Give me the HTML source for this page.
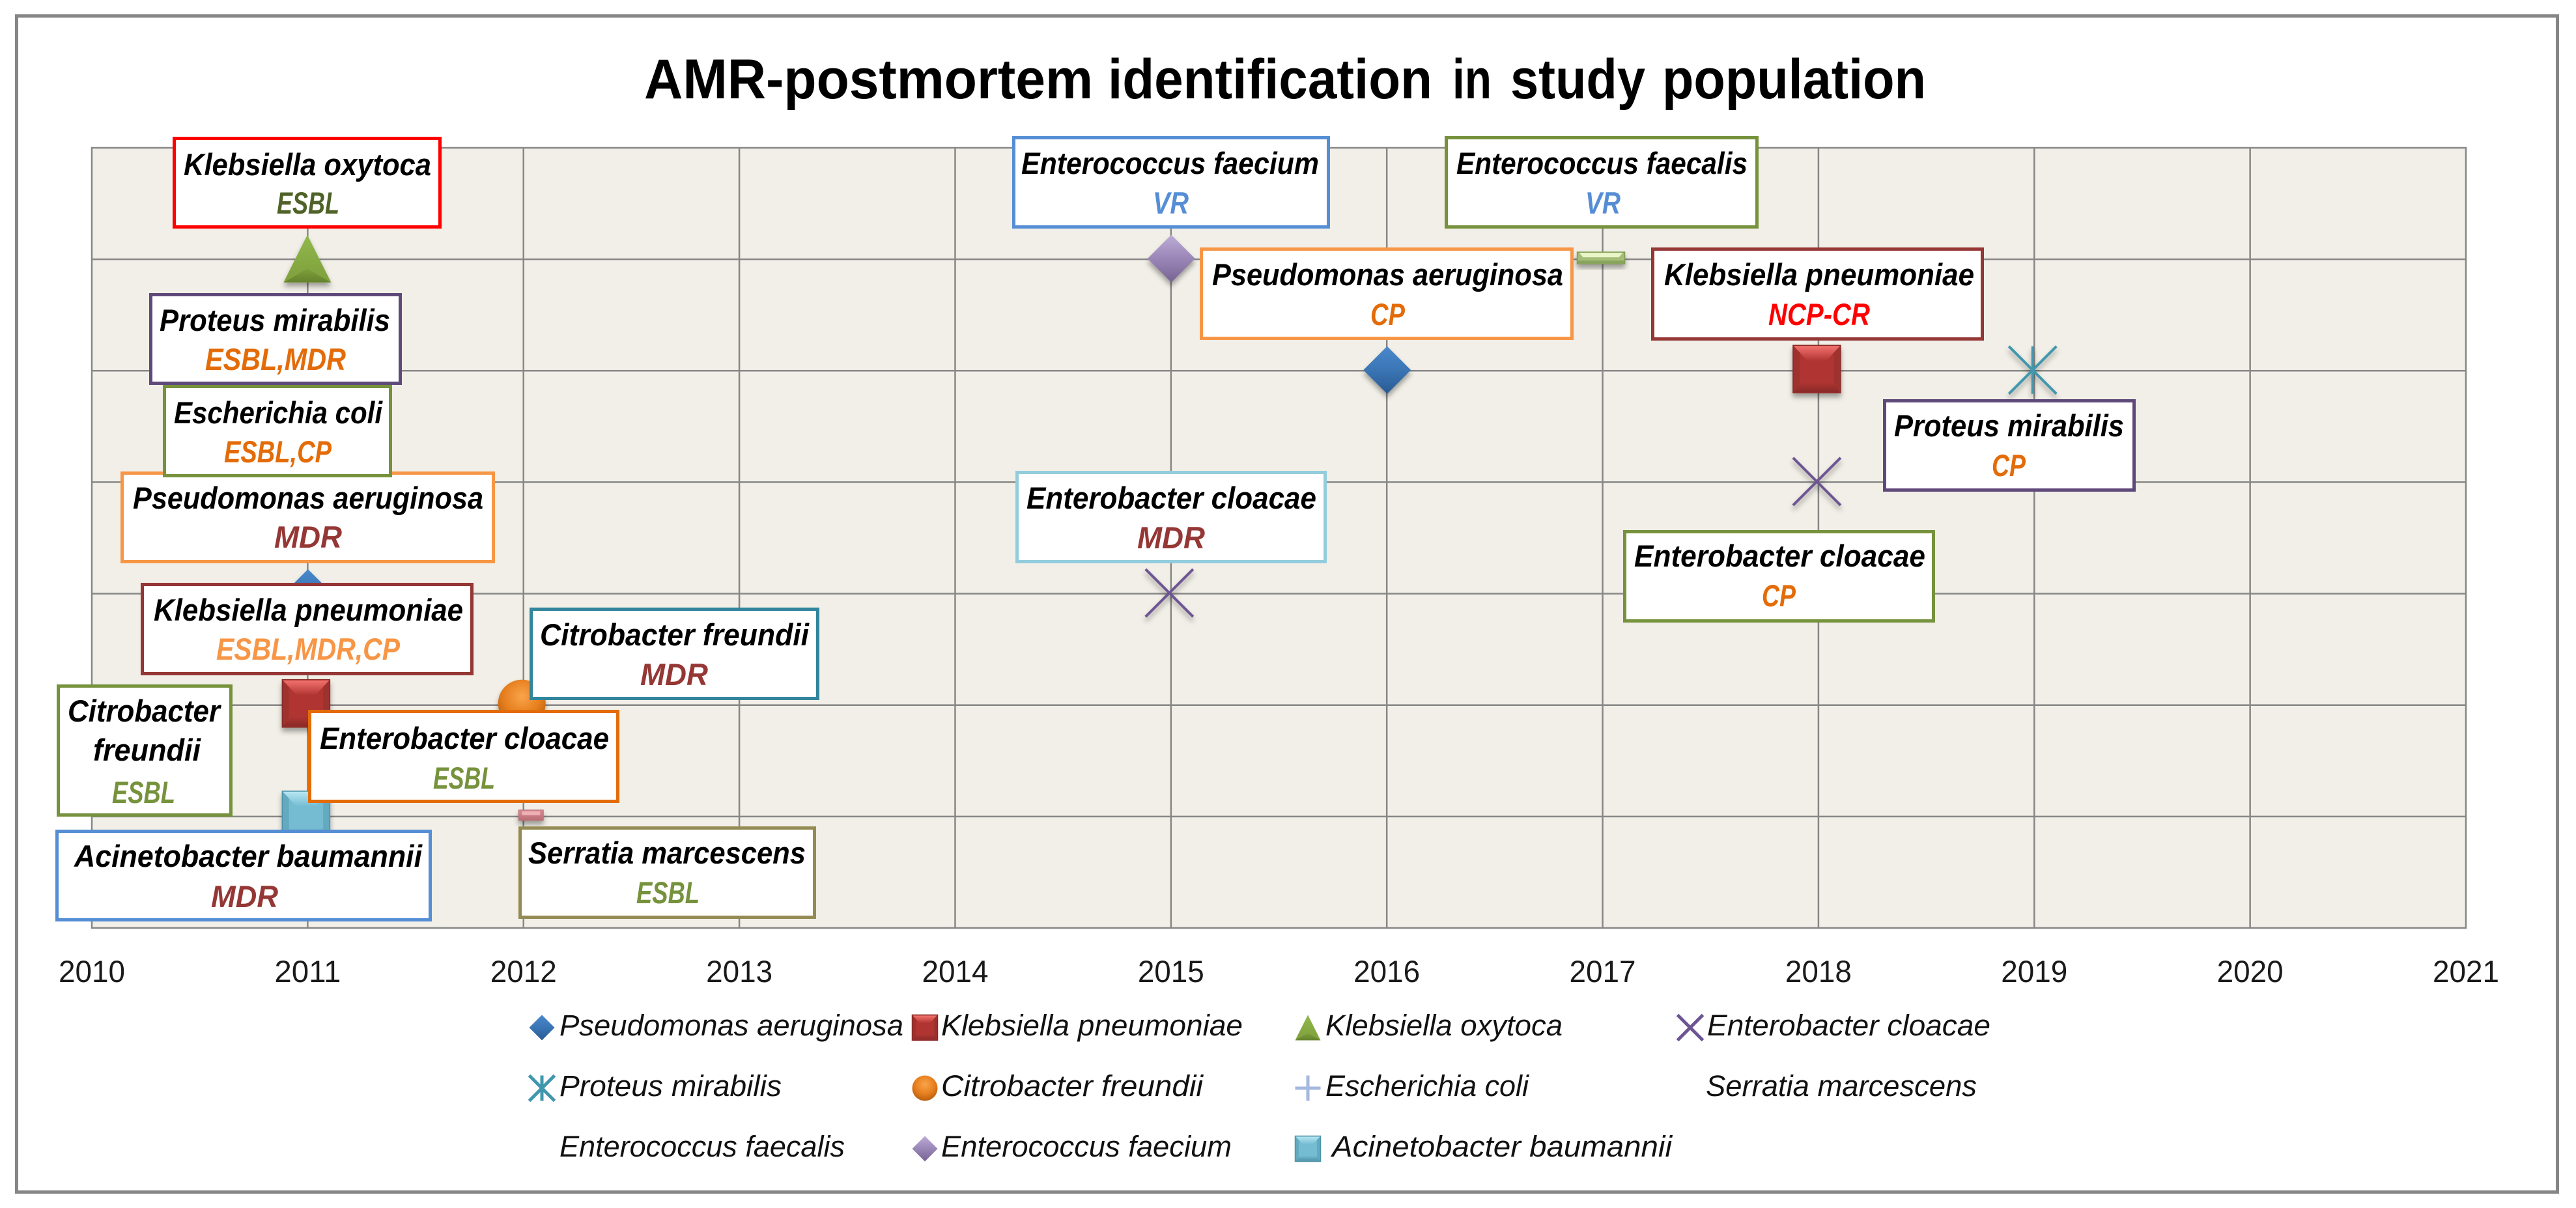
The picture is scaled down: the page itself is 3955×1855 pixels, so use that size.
<!DOCTYPE html>
<html>
<head>
<meta charset="utf-8">
<title>AMR-postmortem identification in study population</title>
<style>
html,body{margin:0;padding:0;background:#fff;width:3955px;height:1855px;overflow:hidden}
svg{display:block}
text{font-family:"Liberation Sans",sans-serif}
.n{font-size:47px;font-weight:bold;font-style:italic;fill:#000}
.r{font-size:47px;font-weight:bold;font-style:italic}
.l{font-size:45px;font-style:italic;fill:#111}
.box{fill:#fff;stroke-width:5}
</style>
</head>
<body>
<svg id="chart" xmlns="http://www.w3.org/2000/svg" width="3955" height="1855" viewBox="0 0 3955 1855">
<defs>
<filter id="mshadow" x="-40%" y="-40%" width="180%" height="190%"><feDropShadow dx="0" dy="6" stdDeviation="4" flood-color="#000" flood-opacity="0.35"/></filter>
</defs>
<rect x="25.5" y="24.5" width="3901" height="1806" fill="#fff" stroke="#868686" stroke-width="5"/>
<rect x="141" y="227" width="3645" height="1198" fill="#f1efe7" stroke="#878787" stroke-width="2.5"/>
<g id="grid"></g>
<g id="marks"></g>

<g><rect class="box" x="267.5" y="212.5" width="408" height="136" stroke="#ff0000"/><text class="n" x="282" y="269" textLength="380" lengthAdjust="spacingAndGlyphs">Klebsiella oxytoca</text><text class="r" x="425" y="328" textLength="96" lengthAdjust="spacingAndGlyphs" fill="#4f6228">ESBL</text></g>
<g><rect class="box" x="231.5" y="452.5" width="383" height="136" stroke="#5f497a"/><text class="n" x="245" y="508" textLength="354" lengthAdjust="spacingAndGlyphs">Proteus mirabilis</text><text class="r" x="315" y="568" textLength="216" lengthAdjust="spacingAndGlyphs" fill="#e36c09">ESBL,MDR</text></g>
<g><rect class="box" x="187.5" y="726.5" width="570" height="136" stroke="#f79646"/><text class="n" x="204" y="781" textLength="538" lengthAdjust="spacingAndGlyphs">Pseudomonas aeruginosa</text><text class="r" x="421" y="841" textLength="104" lengthAdjust="spacingAndGlyphs" fill="#953735">MDR</text></g>
<g><rect class="box" x="252.5" y="593.5" width="347" height="137" stroke="#76923c"/><text class="n" x="267" y="650" textLength="320" lengthAdjust="spacingAndGlyphs">Escherichia coli</text><text class="r" x="344" y="710" textLength="165" lengthAdjust="spacingAndGlyphs" fill="#e36c09">ESBL,CP</text></g>
<g><rect class="box" x="218.5" y="897.5" width="506" height="137" stroke="#953735"/><text class="n" x="236" y="953" textLength="475" lengthAdjust="spacingAndGlyphs">Klebsiella pneumoniae</text><text class="r" x="332" y="1013" textLength="282" lengthAdjust="spacingAndGlyphs" fill="#f79646">ESBL,MDR,CP</text></g>
<g><rect class="box" x="815.5" y="935.5" width="440" height="137" stroke="#31859c"/><text class="n" x="829" y="991" textLength="413" lengthAdjust="spacingAndGlyphs">Citrobacter freundii</text><text class="r" x="983" y="1052" textLength="104" lengthAdjust="spacingAndGlyphs" fill="#953735">MDR</text></g>
<g><rect class="box" x="89.5" y="1053.5" width="265" height="198" stroke="#76923c"/><text class="n" x="104" y="1108" textLength="234" lengthAdjust="spacingAndGlyphs">Citrobacter</text><text class="n" x="143" y="1168" textLength="165" lengthAdjust="spacingAndGlyphs">freundii</text><text class="r" x="172" y="1233" textLength="97" lengthAdjust="spacingAndGlyphs" fill="#76923c">ESBL</text></g>
<g><rect class="box" x="475.5" y="1092.5" width="473" height="138" stroke="#e36c09"/><text class="n" x="491" y="1150" textLength="444" lengthAdjust="spacingAndGlyphs">Enterobacter cloacae</text><text class="r" x="665" y="1211" textLength="95" lengthAdjust="spacingAndGlyphs" fill="#76923c">ESBL</text></g>
<g><rect class="box" x="87.5" y="1276.5" width="573" height="136" stroke="#558ed5"/><text class="n" x="114" y="1331" textLength="534" lengthAdjust="spacingAndGlyphs">Acinetobacter baumannii</text><text class="r" x="324" y="1393" textLength="103" lengthAdjust="spacingAndGlyphs" fill="#953735">MDR</text></g>
<g><rect class="box" x="798.5" y="1271.5" width="452" height="137" stroke="#948a54"/><text class="n" x="811" y="1326" textLength="426" lengthAdjust="spacingAndGlyphs">Serratia marcescens</text><text class="r" x="977" y="1387" textLength="97" lengthAdjust="spacingAndGlyphs" fill="#76923c">ESBL</text></g>
<g><rect class="box" x="1556.5" y="211.5" width="483" height="137" stroke="#558ed5"/><text class="n" x="1568" y="267" textLength="457" lengthAdjust="spacingAndGlyphs">Enterococcus faecium</text><text class="r" x="1770" y="328" textLength="55" lengthAdjust="spacingAndGlyphs" fill="#558ed5">VR</text></g>
<g><rect class="box" x="2220.5" y="211.5" width="477" height="137" stroke="#76923c"/><text class="n" x="2236" y="267" textLength="447" lengthAdjust="spacingAndGlyphs">Enterococcus faecalis</text><text class="r" x="2434" y="328" textLength="54" lengthAdjust="spacingAndGlyphs" fill="#558ed5">VR</text></g>
<g><rect class="box" x="1844.5" y="382.5" width="569" height="137" stroke="#f79646"/><text class="n" x="1861" y="438" textLength="539" lengthAdjust="spacingAndGlyphs">Pseudomonas aeruginosa</text><text class="r" x="2104" y="499" textLength="53" lengthAdjust="spacingAndGlyphs" fill="#e36c09">CP</text></g>
<g><rect class="box" x="2537.5" y="382.5" width="506" height="138" stroke="#953735"/><text class="n" x="2555" y="438" textLength="476" lengthAdjust="spacingAndGlyphs">Klebsiella pneumoniae</text><text class="r" x="2715" y="499" textLength="156" lengthAdjust="spacingAndGlyphs" fill="#ff0000">NCP-CR</text></g>
<g><rect class="box" x="1561.5" y="725.5" width="473" height="137" stroke="#93cddd"/><text class="n" x="1576" y="781" textLength="445" lengthAdjust="spacingAndGlyphs">Enterobacter cloacae</text><text class="r" x="1746" y="842" textLength="104" lengthAdjust="spacingAndGlyphs" fill="#953735">MDR</text></g>
<g><rect class="box" x="2494.5" y="816.5" width="474" height="137" stroke="#76923c"/><text class="n" x="2509" y="870" textLength="447" lengthAdjust="spacingAndGlyphs">Enterobacter cloacae</text><text class="r" x="2705" y="931" textLength="52" lengthAdjust="spacingAndGlyphs" fill="#e36c09">CP</text></g>
<g><rect class="box" x="2893.5" y="615.5" width="383" height="137" stroke="#5f497a"/><text class="n" x="2908" y="670" textLength="353" lengthAdjust="spacingAndGlyphs">Proteus mirabilis</text><text class="r" x="3058" y="731" textLength="52" lengthAdjust="spacingAndGlyphs" fill="#e36c09">CP</text></g>

<text y="151" font-size="86" font-weight="bold" fill="#000"><tspan x="989" textLength="689" lengthAdjust="spacingAndGlyphs">AMR-postmortem</tspan> <tspan x="1701" textLength="498" lengthAdjust="spacingAndGlyphs">identification</tspan> <tspan x="2230" textLength="60" lengthAdjust="spacingAndGlyphs">in</tspan> <tspan x="2319" textLength="207" lengthAdjust="spacingAndGlyphs">study</tspan> <tspan x="2552" textLength="405" lengthAdjust="spacingAndGlyphs">population</tspan></text>
<g id="ticks"></g>

<g id="legend">
<text class="l" x="859" y="1590" textLength="528" lengthAdjust="spacingAndGlyphs">Pseudomonas aeruginosa</text>
<text class="l" x="1445" y="1590" textLength="463" lengthAdjust="spacingAndGlyphs">Klebsiella pneumoniae</text>
<text class="l" x="2035" y="1590" textLength="364" lengthAdjust="spacingAndGlyphs">Klebsiella oxytoca</text>
<text class="l" x="2621" y="1590" textLength="435" lengthAdjust="spacingAndGlyphs">Enterobacter cloacae</text>
<text class="l" x="859" y="1683" textLength="341" lengthAdjust="spacingAndGlyphs">Proteus mirabilis</text>
<text class="l" x="1445" y="1683" textLength="402" lengthAdjust="spacingAndGlyphs">Citrobacter freundii</text>
<text class="l" x="2035" y="1683" textLength="312" lengthAdjust="spacingAndGlyphs">Escherichia coli</text>
<text class="l" x="2619" y="1683" textLength="416" lengthAdjust="spacingAndGlyphs">Serratia marcescens</text>
<text class="l" x="859" y="1776" textLength="438" lengthAdjust="spacingAndGlyphs">Enterococcus faecalis</text>
<text class="l" x="1445" y="1776" textLength="446" lengthAdjust="spacingAndGlyphs">Enterococcus faecium</text>
<text class="l" x="2045" y="1776" textLength="522" lengthAdjust="spacingAndGlyphs">Acinetobacter baumannii</text>
</g>
</svg>
<script>
// ---- chart data ----
const xTickLabels = [2010, 2011, 2012, 2013, 2014, 2015, 2016, 2017, 2018, 2019, 2020, 2021];
const yTicks = [0, 1, 2, 3, 4, 5, 6, 7];
const seriesNames = ["Pseudomonas aeruginosa", "Klebsiella pneumoniae", "Klebsiella oxytoca", "Enterobacter cloacae", "Proteus mirabilis", "Citrobacter freundii", "Escherichia coli", "Serratia marcescens", "Enterococcus faecalis", "Enterococcus faecium", "Acinetobacter baumannii"];
const pseudomonasYears = [2011, 2016];
const pseudomonasValues = [3, 5];
const kPneumoniaeYears = [2011, 2018];
const kPneumoniaeValues = [2, 5];
const kOxytocaYears = [2011];
const kOxytocaValues = [6];
const enterobacterYears = [2015, 2018];
const enterobacterValues = [3, 4];
const proteusYears = [2011, 2019];
const proteusValues = [5, 5];
const citrobacterYears = [2012];
const citrobacterValues = [2];
const eColiYears = [2011];
const eColiValues = [4];
const serratiaYears = [2012];
const serratiaValues = [1];
const faecalisYears = [2017];
const faecalisValues = [6];
const faeciumYears = [2015];
const faeciumValues = [6];
const acinetobacterYears = [2011];
const acinetobacterValues = [1];

const seriesYears = [pseudomonasYears, kPneumoniaeYears, kOxytocaYears, enterobacterYears, proteusYears, citrobacterYears, eColiYears, serratiaYears, faecalisYears, faeciumYears, acinetobacterYears];
const seriesValues = [pseudomonasValues, kPneumoniaeValues, kOxytocaValues, enterobacterValues, proteusValues, citrobacterValues, eColiValues, serratiaValues, faecalisValues, faeciumValues, acinetobacterValues];

// ---- marker styling ----
const markerTypes = ["diamond", "square", "triangle", "x", "star", "sphere", "plus", "smalldash", "dash", "diamond", "square"];
const lightTones = ["#4a88cc", "#f4726e", "#90b84c", "#7a62a2", "#45a5bf", "#f9a44a", "#b3c4e6", "#eeb0b6", "#eaf5c8", "#bcaad6", "#b8e6f2"];
const baseTones = ["#3a75b5", "#b03532", "#7f9f3c", "#6d5593", "#3f97ae", "#e67e1e", "#a5b8de", "#d88a92", "#a4bd78", "#9a87b8", "#74bcd2"];
const darkTones = ["#2a5a92", "#8a2a28", "#64822c", "#5c4680", "#327f94", "#b85f10", "#8da2cc", "#b86e76", "#7e9a50", "#766392", "#4f93a8"];

// ---- axis functions ----
function xScale(year) { return 141 + (year - 2010) * (3786 - 141) / 11; }
function yScale(value) { return 1425 - value * (1425 - 227) / 7; }

const NS = "http://www.w3.org/2000/svg";
const chartSvg = document.getElementById("chart");
const defsEl = chartSvg.querySelector("defs");
function el(tag, attrs, parent) {
  const node = document.createElementNS(NS, tag);
  for (const k in attrs) node.setAttribute(k, attrs[k]);
  if (parent) parent.appendChild(node);
  return node;
}
function gradient(id, c1, c2) {
  const g = el("linearGradient", {id: id, x1: 0, y1: 0, x2: 0, y2: 1}, defsEl);
  el("stop", {offset: "0", "stop-color": c1}, g);
  el("stop", {offset: "1", "stop-color": c2}, g);
}
baseTones.forEach(function (c, i) {
  gradient("top" + i, lightTones[i], c);
  gradient("bot" + i, c, darkTones[i]);
  const r = el("radialGradient", {id: "sph" + i, cx: "0.5", cy: "0.35", r: "0.65"}, defsEl);
  el("stop", {offset: "0", "stop-color": lightTones[i]}, r);
  el("stop", {offset: "0.6", "stop-color": c}, r);
  el("stop", {offset: "1", "stop-color": darkTones[i]}, r);
});

function pts(a) { return a.map(function (p) { return p[0] + "," + p[1]; }).join(" "); }
function drawMarker(parent, i, cx, cy, s) {
  const type = markerTypes[i];
  const top = "url(#top" + i + ")", bot = "url(#bot" + i + ")", base = baseTones[i], dark = darkTones[i];
  if (type === "diamond") {
    el("polygon", {points: pts([[cx - s, cy], [cx, cy - s], [cx + s, cy]]), fill: top}, parent);
    el("polygon", {points: pts([[cx - s, cy], [cx, cy + s], [cx + s, cy]]), fill: bot}, parent);
  } else if (type === "square") {
    el("rect", {x: cx - s, y: cy - s, width: 2 * s, height: 2 * s, fill: base, stroke: dark, "stroke-width": 1.5}, parent);
    el("polygon", {points: pts([[cx - s, cy - s], [cx - s * 0.72, cy - s * 0.72], [cx - s * 0.72, cy + s * 0.72], [cx - s, cy + s]]), fill: dark, "fill-opacity": 0.45}, parent);
    el("polygon", {points: pts([[cx + s, cy - s], [cx + s * 0.72, cy - s * 0.72], [cx + s * 0.72, cy + s * 0.72], [cx + s, cy + s]]), fill: dark, "fill-opacity": 0.45}, parent);
    el("polygon", {points: pts([[cx - s + 1, cy - s + 1], [cx + s - 1, cy - s + 1], [cx + s * 0.4, cy - s * 0.35], [cx - s * 0.4, cy - s * 0.35]]), fill: top}, parent);
    el("polygon", {points: pts([[cx - s + 1, cy + s - 1], [cx + s - 1, cy + s - 1], [cx + s * 0.68, cy + s * 0.55], [cx - s * 0.68, cy + s * 0.55]]), fill: bot}, parent);
  } else if (type === "triangle") {
    el("polygon", {points: pts([[cx, cy - s], [cx + s, cy + s], [cx - s, cy + s]]), fill: top}, parent);
    el("polygon", {points: pts([[cx, cy + s * 0.42], [cx + s * 0.98, cy + s], [cx - s * 0.98, cy + s]]), fill: bot}, parent);
  } else if (type === "x") {
    const w = s >= 30 ? 4 : 5;
    el("path", {d: "M" + (cx - s) + " " + (cy - s) + "L" + (cx + s) + " " + (cy + s) + "M" + (cx + s) + " " + (cy - s) + "L" + (cx - s) + " " + (cy + s), stroke: base, "stroke-width": w, fill: "none"}, parent);
  } else if (type === "star") {
    const w = s >= 30 ? 4 : 5;
    el("path", {d: "M" + (cx - s) + " " + (cy - s) + "L" + (cx + s) + " " + (cy + s) + "M" + (cx + s) + " " + (cy - s) + "L" + (cx - s) + " " + (cy + s) + "M" + cx + " " + (cy - s) + "L" + cx + " " + (cy + s), stroke: base, "stroke-width": w, fill: "none"}, parent);
  } else if (type === "plus") {
    el("path", {d: "M" + (cx - s) + " " + cy + "L" + (cx + s) + " " + cy + "M" + cx + " " + (cy - s) + "L" + cx + " " + (cy + s), stroke: base, "stroke-width": 5, fill: "none"}, parent);
  } else if (type === "sphere") {
    el("circle", {cx: cx, cy: cy, r: s, fill: "url(#sph" + i + ")"}, parent);
  } else if (type === "dash") {
    el("rect", {x: cx - s, y: cy - 9, width: 2 * s, height: 18, fill: base, stroke: dark, "stroke-width": 1.5}, parent);
    el("polygon", {points: pts([[cx - s + 3, cy - 8], [cx + s - 3, cy - 8], [cx + s - 9, cy - 1], [cx - s + 9, cy - 1]]), fill: lightTones[i]}, parent);
    el("rect", {x: cx - s + 1, y: cy + 4, width: 2 * s - 2, height: 4, fill: dark, "fill-opacity": 0.7}, parent);
  } else if (type === "smalldash") {
    el("rect", {x: cx - 5, y: cy - 8, width: 38, height: 16, fill: bot, stroke: dark, "stroke-width": 1}, parent);
    el("rect", {x: cx, y: cy - 6, width: 28, height: 6, fill: lightTones[i]}, parent);
  }
}
function offsetX(type) {
  if (type === "diamond") return 0.5;
  if (type === "triangle") return -0.5;
  return -2.5;
}
function offsetY(type) {
  if (type === "square" || type === "sphere") return -2.5;
  if (type === "dash" || type === "smalldash") return -2;
  return -1;
}

// ---- gridlines ----
const gridGroup = document.getElementById("grid");
xTickLabels.slice(1, -1).forEach(function (yr) {
  const line = el("line", {x1: xScale(yr), x2: xScale(yr), y1: yScale(7), y2: yScale(0), stroke: "#878787", "stroke-width": 2.5}, gridGroup);
  
  
});
yTicks.slice(1, -1).forEach(function (v) {
  const line = el("line", {x1: xScale(2010), x2: xScale(2021), y1: yScale(v), y2: yScale(v), stroke: "#878787", "stroke-width": 2.5}, gridGroup);
  
  
});

// ---- x tick labels ----
const tickGroup = document.getElementById("ticks");
xTickLabels.forEach(function (label) {
  const t = el("text", {x: xScale(label), y: 1508, "text-anchor": "middle", "font-size": 47, fill: "#1a1a1a", textLength: 102, lengthAdjust: "spacingAndGlyphs"}, tickGroup);
  t.textContent = label;
  
  
});

// ---- series markers ----
const marksGroup = document.getElementById("marks");
seriesYears.forEach(function (years, i) {
  years.forEach(function (yr, j) {
    const g = el("g", {filter: "url(#mshadow)"}, marksGroup);
    
    
    g.setAttribute('aria-label', seriesNames[i] + " " + yr);
    drawMarker(g, i, xScale(yr) + offsetX(markerTypes[i]), yScale(seriesValues[i][j]) + offsetY(markerTypes[i]), 36.5);
  });
});

// ---- legend markers ----
const legendGroup = document.getElementById("legend");
const legendColumns = [832, 1420, 2008, 2595];
const legendRows = [1578, 1671, 1764];
seriesNames.forEach(function (name, i) {
  if (markerTypes[i] === "dash" || markerTypes[i] === "smalldash") return;
  const g = el("g", {}, legendGroup);
  
  
  drawMarker(g, i, legendColumns[i % 4], legendRows[Math.floor(i / 4)], 19.5);
});
</script>
</body>
</html>
